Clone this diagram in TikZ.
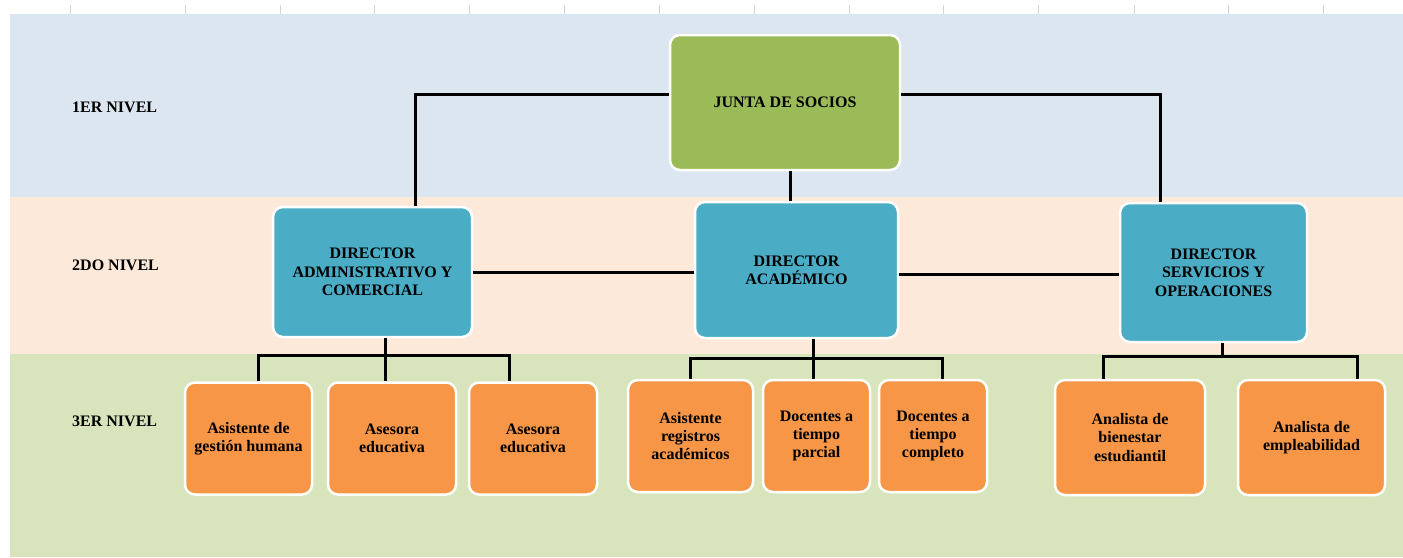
\documentclass[tikz,border=0pt]{standalone}
\usepackage{fontspec}
\setmainfont{Liberation Serif}
\usetikzlibrary{calc}
\definecolor{bandone}{HTML}{DCE6F1}
\definecolor{bandtwo}{HTML}{FDE9D9}
\definecolor{bandthree}{HTML}{D8E4BC}
\definecolor{boardgreen}{HTML}{9BBB59}
\definecolor{directorblue}{HTML}{4BACC6}
\definecolor{staffcolor}{HTML}{F79646}
\definecolor{tickgray}{HTML}{D4D4D4}
\tikzset{
  box/.style={rectangle, rounded corners=10pt, draw=white, line width=2.5pt,
    align=center, inner sep=2pt,
    font=\fontsize{16}{18.3}\selectfont\bfseries},
  board/.style={box, fill=boardgreen},
  director/.style={box, fill=directorblue},
  staff/.style={box, fill=staffcolor},
  link/.style={draw=black, line width=3pt},
  levellabel/.style={anchor=west, inner sep=0pt,
    font=\fontsize{16}{18}\selectfont\bfseries}
}
\begin{document}
\begin{tikzpicture}[x=1pt, y=-1pt]
\useasboundingbox (0,0) rectangle (1403,557);
\fill[white] (0,0) rectangle (1403,557);

% column ticks along the top edge
\foreach \tx in {70,185,280,374,469,564,659,754,849,943,1038,1134,1228,1323}
  \draw[tickgray, line width=0.8pt] (\tx,5) -- (\tx,14);

% level bands
\fill[bandone]   (10,14)  rectangle (1403,197);
\fill[bandtwo]   (10,197) rectangle (1403,354);
\fill[bandthree] (10,354) rectangle (1403,557);

% level labels
\node[levellabel] (l1) at (72,107) {1ER NIVEL};
\node[levellabel] (l2) at (72,265) {2DO NIVEL};
\node[levellabel] (l3) at (72,421) {3ER NIVEL};

% first level
\node[board, minimum width=230pt, minimum height=135pt] (junta) at (785,102.5) {JUNTA DE SOCIOS};

% second level
\node[director, minimum width=199pt, minimum height=130pt] (adm) at (372.5,272)
  {DIRECTOR\\ADMINISTRATIVO Y\\COMERCIAL};
\node[director, minimum width=203pt, minimum height=136pt] (acad) at (796.5,270)
  {DIRECTOR\\ACADÉMICO};
\node[director, minimum width=187pt, minimum height=139pt] (serv) at (1213.5,272.5)
  {DIRECTOR\\SERVICIOS Y\\OPERACIONES};

% third level
\node[staff, minimum width=127pt, minimum height=112pt] (a1) at (248.5,438.5) {Asistente de\\gestión humana};
\node[staff, minimum width=128pt, minimum height=112pt] (a2) at (392,438.5) {Asesora\\educativa};
\node[staff, minimum width=128pt, minimum height=112pt] (a3) at (533,438.5) {Asesora\\educativa};

\node[staff, minimum width=125pt, minimum height=112pt] (b1) at (690.5,436) {Asistente\\registros\\académicos};
\node[staff, minimum width=107pt, minimum height=112pt] (b2) at (816.5,436) {Docentes a\\tiempo\\parcial};
\node[staff, minimum width=108pt, minimum height=112pt] (b3) at (933,436) {Docentes a\\tiempo\\completo};

\node[staff, minimum width=150pt, minimum height=115pt] (c1) at (1130,437.5) {Analista de\\bienestar\\estudiantil};
\node[staff, minimum width=147pt, minimum height=115pt] (c2) at (1311.5,437.5) {Analista de\\empleabilidad};

% board to directors
\draw[link] ([yshift=8.5pt]junta.west) -| ([xshift=42.5pt]adm.north);
\draw[link] ([yshift=8.5pt]junta.east) -| ([xshift=-53.5pt]serv.north);
\draw[link] ([xshift=5pt]junta.south) -- ([xshift=5pt]junta.south |- acad.north);

% directors side by side
\draw[link] (adm.east) -- (adm.east -| acad.west);
\draw[link] ([yshift=-2pt]serv.west -| acad.east) -- ([yshift=-2pt]serv.west);

% administrative branch
\draw[link] ([xshift=13pt]adm.south) -- ++(0,17) coordinate (abus);
\draw[link] ([xshift=9.5pt]a1.north) |- (abus) -| ([xshift=-24pt]a3.north);
\draw[link] (abus) -- (abus |- a2.north);

% academic branch
\draw[link] ([xshift=16.5pt]acad.south) -- ++(0,19) coordinate (bbus);
\draw[link] (b1.north) |- (bbus) -| ([xshift=9pt]b3.north);
\draw[link] (bbus) -- (bbus |- b2.north);

% services branch
\draw[link] ([xshift=8.5pt]serv.south) -- ++(0,13) coordinate (cbus);
\draw[link] ([xshift=-27pt]c1.north) |- (cbus) -| ([xshift=45.5pt]c2.north);
\end{tikzpicture}
\end{document}
